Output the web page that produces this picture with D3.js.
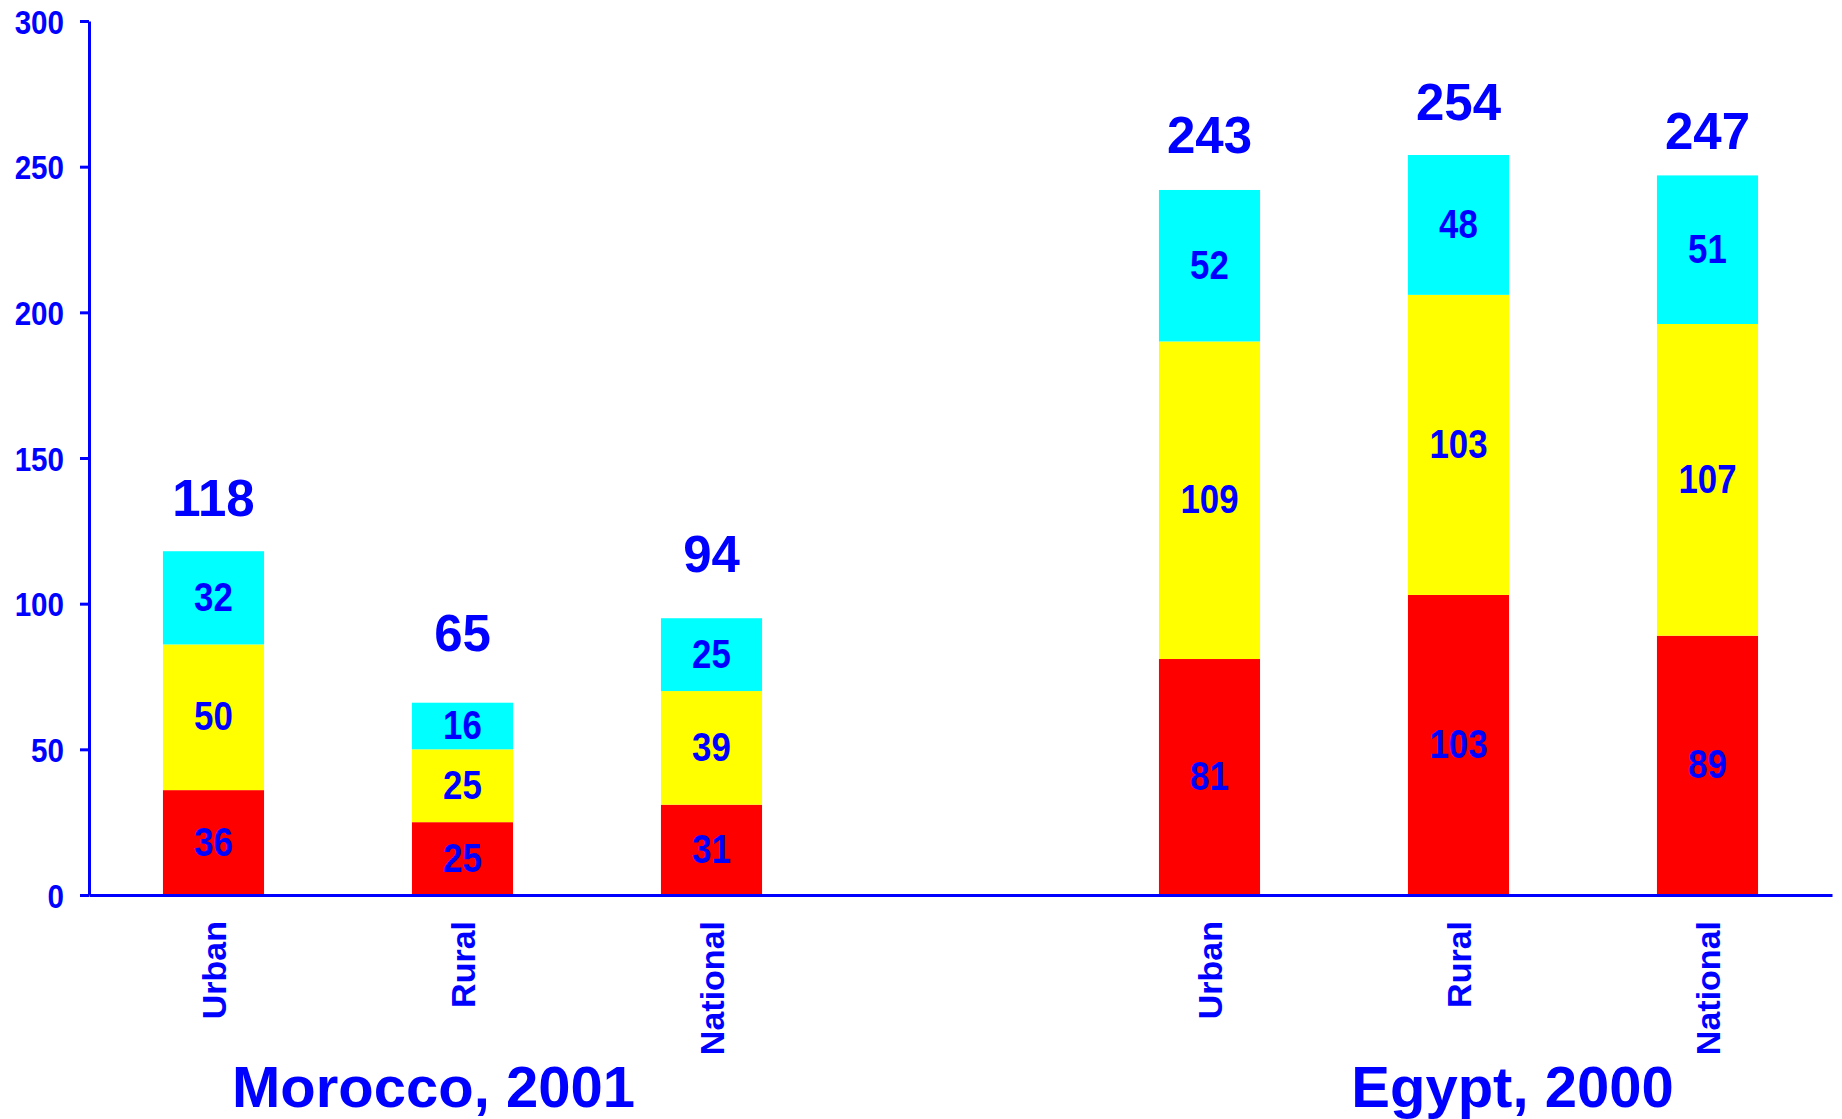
<!DOCTYPE html>
<html>
<head>
<meta charset="utf-8">
<script src="https://cdn.jsdelivr.net/npm/d3@7"></script>
<style>
  html, body { margin: 0; padding: 0; background: #ffffff; }
  svg { display: block; }
  text { font-family: "Liberation Sans", Arial, sans-serif; font-weight: bold; fill: #0000ff; }
</style>
</head>
<body>
<svg id="chart" width="1842" height="1119"></svg>
<script>
// Categories: two countries, three areas each; an empty slot separates the groups
const countries = ["Morocco, 2001", "Egypt, 2000"];
const areas = ["Urban", "Rural", "National"];
const slots = ["M-Urban", "M-Rural", "M-National", "gap", "E-Urban", "E-Rural", "E-National"];
const barSlots = ["M-Urban", "M-Rural", "M-National", "E-Urban", "E-Rural", "E-National"];

// Stacked segments, bottom to top
const redValues    = [36, 25, 31, 81, 103, 89];
const yellowValues = [50, 25, 39, 109, 103, 107];
const cyanValues   = [32, 16, 25, 52, 48, 51];
const totals       = [118, 65, 94, 243, 254, 247];

const yTicks = [0, 50, 100, 150, 200, 250, 300];
const segmentColors = ["#ff0000", "#ffff00", "#00ffff"];

// Space (px) between each total label's baseline and the top of its bar
const totalLabelGap = [35, 52, 46, 37, 35, 26];

const BLUE = "#0000ff";
const svg = d3.select("#chart");

const x = d3.scaleBand()
  .domain(slots)
  .range([89, 1832])
  .paddingInner(0.594)
  .paddingOuter(0.297);

const y = d3.scaleLinear().domain([0, 300]).range([895, 21]);

// Stack layout
const rows = barSlots.map((s, i) => ({
  slot: s,
  red: redValues[i],
  yellow: yellowValues[i],
  cyan: cyanValues[i],
  total: totals[i],
  gap: totalLabelGap[i]
}));
const stack = d3.stack().keys(["red", "yellow", "cyan"]);
const layers = stack(rows);

// Bars
const layerG = svg.append("g").selectAll("g")
  .data(layers)
  .join("g")
  .attr("fill", (d, i) => segmentColors[i]);

layerG.selectAll("rect")
  .data(d => d)
  .join("rect")
  .attr("x", d => x(d.data.slot))
  .attr("width", x.bandwidth())
  .attr("y", d => y(d[1]))
  .attr("height", d => y(d[0]) - y(d[1]));

// Segment value labels (condensed)
layerG.selectAll("text")
  .data((d) => d.map(v => ({ v, key: d.key })))
  .join("text")
  .attr("text-anchor", "middle")
  .attr("font-size", 41)
  .attr("transform", d => {
    const cx = x(d.v.data.slot) + x.bandwidth() / 2;
    const cy = (y(d.v[0]) + y(d.v[1])) / 2 + 13;
    return `translate(${cx},${cy}) scale(0.85,1)`;
  })
  .text(d => d.v.data[d.key]);

// Totals above bars
svg.append("g").selectAll("text")
  .data(rows)
  .join("text")
  .attr("text-anchor", "middle")
  .attr("font-size", 51)
  .attr("x", d => x(d.slot) + x.bandwidth() / 2)
  .attr("y", d => y(d.red + d.yellow + d.cyan) - d.gap)
  .text(d => d.total);

// Y axis
const yAxis = svg.append("g")
  .attr("transform", "translate(89,0)")
  .call(d3.axisLeft(y).tickValues(yTicks).tickSize(9).tickSizeOuter(0));
yAxis.select(".domain").attr("stroke", BLUE).attr("stroke-width", 3);
yAxis.selectAll(".tick line").attr("stroke", BLUE).attr("stroke-width", 3);
yAxis.selectAll(".tick text")
  .attr("x", null)
  .attr("dy", null)
  .attr("fill", BLUE)
  .attr("font-size", 34)
  .attr("font-family", null)
  .attr("text-anchor", "end")
  .attr("transform", "translate(-25,12) scale(0.87,1)");

// X axis
const xAxis = svg.append("g")
  .attr("transform", "translate(0,895)")
  .call(d3.axisBottom(x).tickValues(barSlots).tickSize(0).tickSizeOuter(0)
    .tickFormat(s => areas[barSlots.indexOf(s) % 3]));
xAxis.select(".domain").attr("stroke", BLUE).attr("stroke-width", 3);
xAxis.selectAll(".tick text")
  .attr("fill", BLUE)
  .attr("font-size", 34)
  .attr("font-family", null)
  .attr("text-anchor", "end")
  .attr("y", null)
  .attr("dy", null)
  .attr("transform", "translate(12,26) rotate(-90)");

// Country titles under each group
const groupCenter = (k) => x(barSlots[k * 3 + 1]) + x.bandwidth() / 2;
const titleShift = [-29, 54];
svg.append("g").selectAll("text")
  .data(countries)
  .join("text")
  .attr("text-anchor", "middle")
  .attr("font-size", 58)
  .attr("x", (d, k) => groupCenter(k) + titleShift[k])
  .attr("y", 1107)
  .text(d => d);
</script>
</body>
</html>
